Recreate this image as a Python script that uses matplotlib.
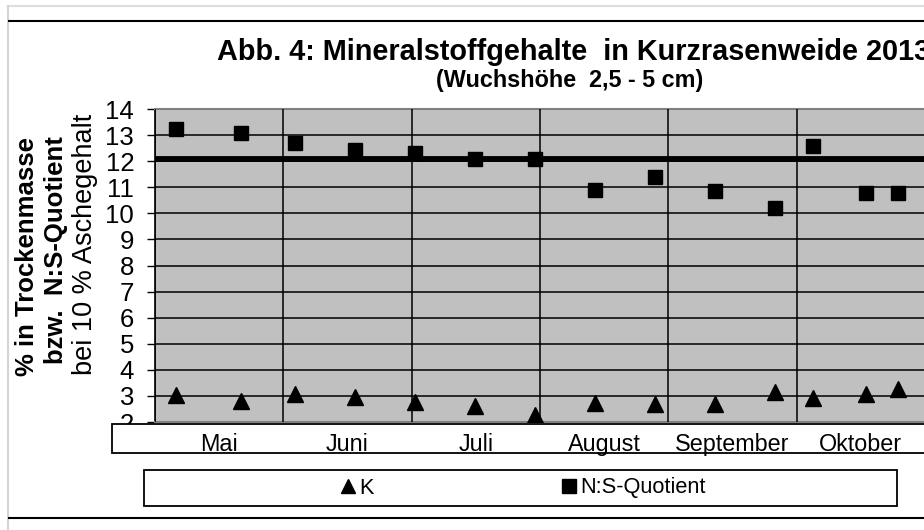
import matplotlib.pyplot as plt
from matplotlib.patches import Rectangle
from matplotlib.lines import Line2D

plt.rcParams['font.family'] = ['Liberation Sans', 'DejaVu Sans']

# --- Daten (Position in Monaten ab 1. Mai) ---
months = ["Mai", "Juni", "Juli", "August", "September", "Oktober"]
x_pos = [0.164, 0.670, 1.090, 1.558, 2.025, 2.492, 2.960,
         3.427, 3.894, 4.361, 4.829, 5.125, 5.537, 5.787]
k_vals = [3.03, 2.81, 3.09, 2.96, 2.77, 2.60, 2.25,
          2.73, 2.68, 2.68, 3.15, 2.93, 3.09, 3.28]
ns_vals = [13.22, 13.08, 12.70, 12.42, 12.31, 12.10, 12.10,
           10.90, 11.40, 10.85, 10.20, 12.58, 10.78, 10.78]
ns_ref = 12.1
y_ticks = list(range(2, 15))

W, H = 924, 530
fig = plt.figure(figsize=(W / 100, H / 100), dpi=100)

def fx(px):
    return px / W

def fy(py):
    return 1 - py / H

# --- Rahmen wie im Tabellenblatt ---
fig.add_artist(Line2D([fx(8), 1], [fy(6), fy(6)], color="#dddddd", lw=1.5))
fig.add_artist(Line2D([fx(8), fx(8)], [fy(6), 0], color="#d4d4d4", lw=1.5))
fig.add_artist(Line2D([fx(9), 1], [fy(21), fy(21)], color="black", lw=1.5))
fig.add_artist(Line2D([fx(9), 1], [fy(518), fy(518)], color="black", lw=1.5))

ax = fig.add_axes([fx(155), fy(422), (925 - 155) / W, (422 - 109) / H])
ax.set_facecolor("#c0c0c0")
ax.set_xlim(0, 6)
ax.set_ylim(2, 14)

ax.set_yticks(y_ticks)
ax.set_yticklabels([str(t) for t in y_ticks])
ax.set_xticks(range(0, 7))
ax.set_xticklabels([])
ax.set_xticks([i + 0.5 for i in range(len(months))], minor=True)
ax.set_xticklabels(months, minor=True, fontsize=16.8)

ax.tick_params(axis="y", direction="out", length=6, width=1, labelsize=18.5, pad=9)
ax.tick_params(axis="x", which="both", length=0)
ax.tick_params(axis="x", which="minor", pad=8)
ax.grid(True, which="major", color="black", lw=1.1)

for s in ["top", "bottom"]:
    ax.spines[s].set_color("#808080")
    ax.spines[s].set_linewidth(1.5)
ax.spines["left"].set_color("black")
ax.spines["left"].set_linewidth(1.2)
ax.spines["right"].set_visible(False)

ax.yaxis.set_zorder(1)
ax.xaxis.set_zorder(3)

ax.axhline(ns_ref, color="black", lw=4.2, zorder=4)
ax.plot(x_pos, k_vals, ls="none", marker="^", ms=11, color="black", zorder=5)
ax.plot(x_pos, ns_vals, ls="none", marker="s", ms=10.5, color="black", zorder=5)

# weisser Kasten unter der Rubrikenachse (verdeckt die "2")
box = Rectangle((fx(112), fy(453)), 1 - fx(112) + 0.01, (453 - 424) / H,
                transform=fig.transFigure, facecolor="white", edgecolor="black",
                lw=1.3, clip_on=False, zorder=2)
ax.add_patch(box)

# --- Titel ---
fig.text(fx(217), fy(60), "Abb. 4: Mineralstoffgehalte  in Kurzrasenweide 2013",
         fontsize=20.8, fontweight="bold", ha="left", va="baseline")
fig.text(fx(570), fy(87), "(Wuchshöhe  2,5 - 5 cm)",
         fontsize=16.8, fontweight="bold", ha="center", va="baseline")

# --- Achsentitel ---
fig.text(fx(27), fy(256), "% in Trockenmasse", rotation=90, fontsize=18.5,
         fontweight="bold", ha="center", va="center")
fig.text(fx(56), fy(250), "bzw.  N:S-Quotient", rotation=90, fontsize=18.5,
         fontweight="bold", ha="center", va="center")
fig.text(fx(85), fy(244), "bei 10 % Aschegehalt", rotation=90, fontsize=19.5,
         ha="center", va="center")

# --- Legende ---
fig.add_artist(Rectangle((fx(144), fy(506)), fx(897) - fx(144), (506 - 470) / H,
                         transform=fig.transFigure, facecolor="white",
                         edgecolor="black", lw=1.3))
handles = [Line2D([], [], ls="none", marker="^", ms=10, color="black"),
           Line2D([], [], ls="none", marker="s", ms=10, color="black")]
leg = fig.legend(handles, ["K", "N:S-Quotient"], loc="center",
                 bbox_to_anchor=(fx(523), fy(488)), ncol=2, frameon=False,
                 fontsize=15.7, handlelength=0.7, handletextpad=0.15,
                 columnspacing=8.6, borderpad=0)
leg.set_zorder(5)

plt.savefig("out.png", dpi=100)
